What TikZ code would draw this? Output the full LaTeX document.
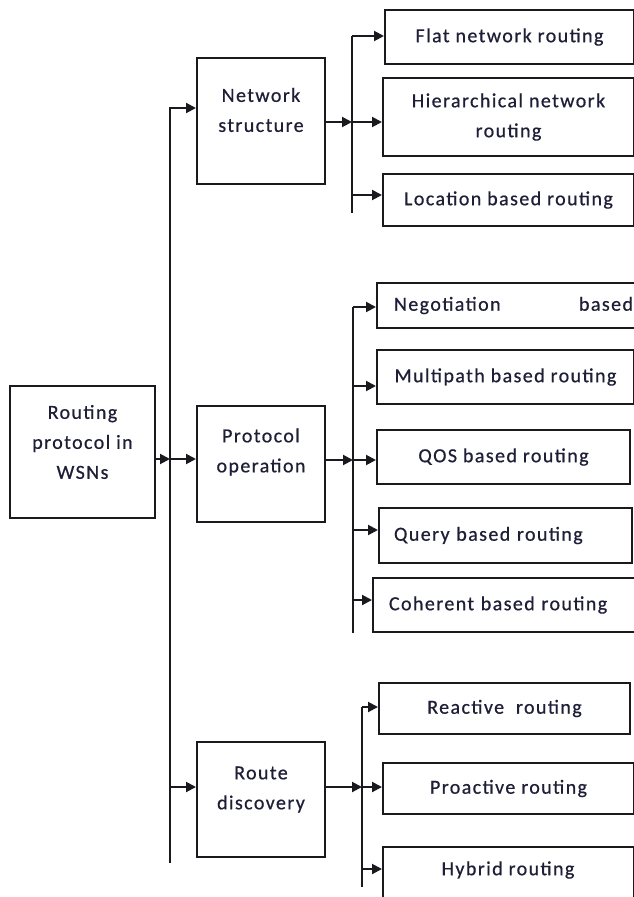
\documentclass[tikz,border=0pt]{standalone}
\usepackage{fontspec}
\setmainfont[LetterSpace=7,FakeBold=0.6]{Carlito}
\usetikzlibrary{arrows.meta}
\definecolor{ink}{RGB}{25,25,30}
\definecolor{txt}{RGB}{30,30,55}
\begin{document}
\begin{tikzpicture}[x=1pt,y=-1pt,
  box/.style={draw=ink, line width=2pt, inner sep=0pt, anchor=north west,
    font=\fontsize{20}{30}\selectfont, align=center, text=txt},
  lbl/.style={font=\fontsize{20}{30}\selectfont, align=center, text=txt, inner sep=0pt},
  arr/.style={draw=ink, line width=2pt, -{Triangle[length=10pt,width=10pt]}},
  trunk/.style={draw=ink, line width=2pt}]
\useasboundingbox (0,0) rectangle (634,897);
\clip (0,0) rectangle (634,897);

% level 0
\node[box, minimum width=145pt, minimum height=132pt] (root) at (9,385) {};
\node[lbl, yshift=10pt] (roott) at (root.center) {Routing\\protocol in\\WSNs};

% level 1
\node[box, minimum width=128pt, minimum height=126pt] (net) at (196,57) {};
\node[lbl, yshift=11pt] (nett) at (net.center) {Network\\structure};
\node[box, minimum width=128pt, minimum height=116pt] (prot) at (196,405) {};
\node[lbl, yshift=12pt] (prott) at (prot.center) {Protocol\\operation};
\node[box, minimum width=128pt, minimum height=115pt] (route) at (196,741) {};
\node[lbl, yshift=10pt] (routet) at (route.center) {Route\\discovery};

% level 2
\node[box, minimum width=249pt, minimum height=54pt] (flat) at (384,9) {Flat network routing};
\node[box, minimum width=251pt, minimum height=78pt] (hier) at (382,77) {Hierarchical network\\routing};
\node[box, minimum width=251pt, minimum height=52pt] (loc) at (382,173) {Location based routing};

\node[box, minimum height=45pt, inner xsep=17pt, text width=239pt, align=left] (neg) at (376,282) {Negotiation\hfill based};
\node[box, minimum width=257pt, minimum height=54pt] (multi) at (376,349) {Multipath based routing};
\node[box, minimum width=253pt, minimum height=54pt] (qos) at (376,429) {QOS based routing};
\node[box, minimum height=55pt, inner xsep=15pt, text width=223pt, align=left] (query) at (378,507) {Query based routing};
\node[box, minimum height=54pt, inner xsep=16pt, text width=236pt, align=left] (coh) at (372,577) {Coherent based routing};

\node[box, minimum width=251pt, minimum height=51pt] (react) at (378,682) {Reactive\ \ routing};
\node[box, minimum width=251pt, minimum height=51pt] (proact) at (382,762) {Proactive routing};
\node[box, minimum width=251pt, minimum height=80pt] (hyb) at (382,846) {};
\node[lbl] (hybtext) at (508,870) {Hybrid routing};

% main trunk
\coordinate (tTop) at (170,107);
\coordinate (tBot) at (170,863);
\coordinate (tA) at (170,108);
\coordinate (tB) at (170,459);
\coordinate (tC) at (170,787);
\draw[trunk] (tTop) -- (tBot);
\draw[arr] (root.east |- tB) -- (tB);
\draw[arr] (tA) -- (net.west |- tA);
\draw[arr] (tB) -- (prot.west |- tB);
\draw[arr] (tC) -- (route.west |- tC);

% sub trunk 1
\coordinate (a0) at (352,36);
\coordinate (a1) at (352,122);
\coordinate (a2) at (352,195);
\coordinate (aB) at (352,213);
\draw[trunk] (a0) -- (aB);
\draw[arr] (net.east |- a1) -- (a1);
\draw[arr] (a0) -- (flat.west |- a0);
\draw[arr] (a1) -- (hier.west |- a1);
\draw[arr] (a2) -- (loc.west |- a2);

% sub trunk 2
\coordinate (b0) at (353,307);
\coordinate (b1) at (353,386);
\coordinate (b2) at (353,460);
\coordinate (b3) at (353,530);
\coordinate (b4) at (353,600);
\coordinate (bB) at (353,633);
\draw[trunk] (b0) -- (bB);
\draw[arr] (prot.east |- b2) -- (b2);
\draw[arr] (b0) -- (neg.west |- b0);
\draw[arr] (b1) -- (multi.west |- b1);
\draw[arr] (b2) -- (qos.west |- b2);
\draw[arr] (b3) -- (query.west |- b3);
\draw[arr] (b4) -- (coh.west |- b4);

% sub trunk 3
\coordinate (c0) at (362,707);
\coordinate (c1) at (362,787);
\coordinate (c2) at (362,869);
\coordinate (cB) at (362,887);
\draw[trunk] (c0) -- (cB);
\draw[arr] (route.east |- c1) -- (c1);
\draw[arr] (c0) -- (react.west |- c0);
\draw[arr] (c1) -- (proact.west |- c1);
\draw[arr] (c2) -- (hyb.west |- c2);
\end{tikzpicture}
\end{document}
